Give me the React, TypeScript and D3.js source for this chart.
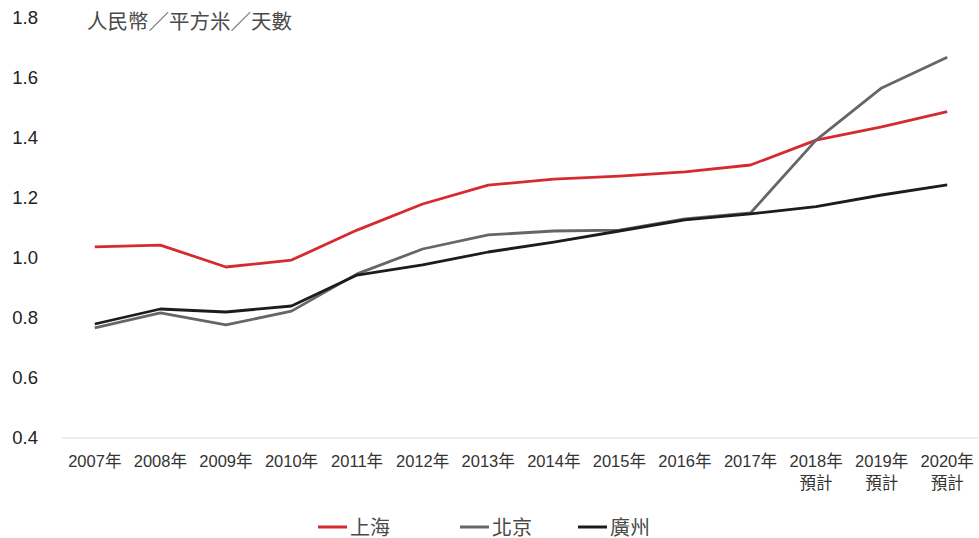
import React from "react";
import * as d3 from "d3";

const categories = ["2007年", "2008年", "2009年", "2010年", "2011年", "2012年", "2013年", "2014年", "2015年", "2016年", "2017年", "2018年\n預計", "2019年\n預計", "2020年\n預計"];
const shanghai = [1.037, 1.043, 0.97, 0.993, 1.093, 1.18, 1.243, 1.263, 1.273, 1.287, 1.31, 1.393, 1.437, 1.488];
const beijing = [0.767, 0.817, 0.777, 0.823, 0.947, 1.03, 1.077, 1.09, 1.093, 1.13, 1.15, 1.393, 1.567, 1.669];
const guangzhou = [0.78, 0.83, 0.82, 0.84, 0.943, 0.977, 1.02, 1.053, 1.09, 1.127, 1.147, 1.171, 1.21, 1.244];
const yTicks = [0.4, 0.6, 0.8, 1.0, 1.2, 1.4, 1.6, 1.8];
const seriesNames = ["上海", "北京", "廣州"];
const unitLabel = "人民幣／平方米／天數";

const colors = ["#d52b2f", "#666666", "#1c1c1c"];
const font = "'Liberation Sans', Arial, 'Noto Sans CJK TC', sans-serif";

export default function App() {
  const W = 979, H = 538;
  const x = d3.scaleBand<string>().domain(categories).range([62, 980]);
  const y = d3.scaleLinear().domain([0.4, 1.8]).range([438, 18]);
  const line = d3.line<number>().x((_, i) => (x(categories[i]) as number) + x.bandwidth() / 2).y(d => y(d));
  const series = [shanghai, beijing, guangzhou];
  const legendX = [318, 460, 578];
  return (
    <svg width={W} height={H} style={{ position: "absolute", left: 0, top: 0, background: "#fff" }} fontFamily={font}>
      <line x1={62} x2={978} y1={y(0.4)} y2={y(0.4)} stroke="#dcdcdc" strokeWidth={1} />
      {yTicks.map(t => (
        <text key={t} x={38} y={y(t)} dy="0.35em" textAnchor="end" fontSize={18.5} fill="#222">{t.toFixed(1)}</text>
      ))}
      <text x={87} y={22} dy="0.35em" fontSize={20.5} fill="#4a4a4a">{unitLabel}</text>
      {categories.map(c => {
        const cx = (x(c) as number) + x.bandwidth() / 2;
        return (
          <text key={c} x={cx} y={467} textAnchor="middle" fontSize={16.5} fill="#333">
            {c.split("\n").map((s, i) => (
              <tspan key={i} x={cx} dy={i === 0 ? 0 : 22}>{s}</tspan>
            ))}
          </text>
        );
      })}
      {series.map((s, i) => (
        <path key={i} d={line(s) as string} fill="none" stroke={colors[i]} strokeWidth={2.8} strokeLinejoin="round" />
      ))}
      {seriesNames.map((n, i) => (
        <g key={n}>
          <line x1={legendX[i]} x2={legendX[i] + 29} y1={527} y2={527} stroke={colors[i]} strokeWidth={3} />
          <text x={legendX[i] + 32} y={528} dy="0.35em" fontSize={20} fill="#4a4a4a">{n}</text>
        </g>
      ))}
    </svg>
  );
}
